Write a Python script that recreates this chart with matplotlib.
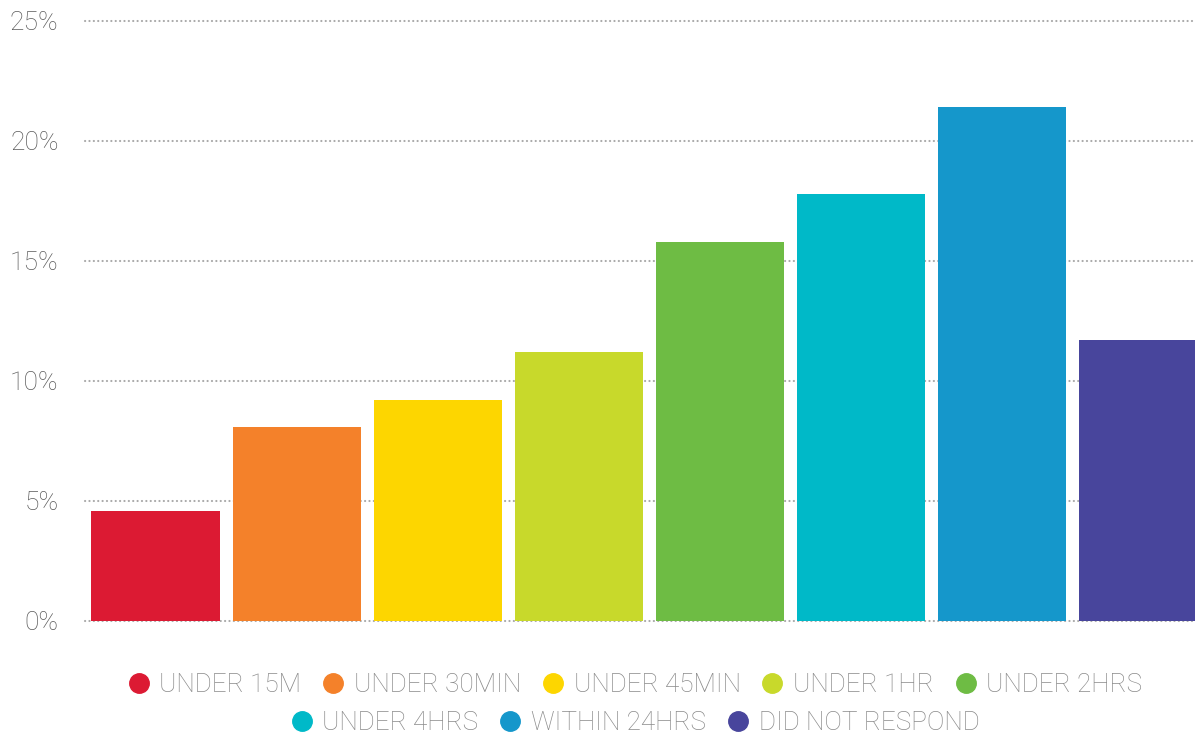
import matplotlib
matplotlib.use('Agg')
import matplotlib.pyplot as plt
from matplotlib.lines import Line2D
from matplotlib.ticker import FuncFormatter

plt.rcParams['font.family'] = ['Roboto', 'DejaVu Sans']

# 데이터
categories = ['UNDER 15M', 'UNDER 30MIN', 'UNDER 45MIN', 'UNDER 1HR',
              'UNDER 2HRS', 'UNDER 4HRS', 'WITHIN 24HRS', 'DID NOT RESPOND']
values = [4.6, 8.1, 9.2, 11.2, 15.8, 17.8, 21.4, 11.7]
colors = ['#DC1A33', '#F4812A', '#FDD600', '#C8D92B',
          '#6EBC44', '#00B9C8', '#1597CB', '#48459C']
yticks = [0, 5, 10, 15, 20, 25]

fig = plt.figure(figsize=(11.95, 7.34), dpi=100)
ax = fig.add_axes([85 / 1195, 113 / 734, 1 - 85 / 1195, 600 / 734])

x = list(range(len(categories)))
ax.bar(x, values, width=0.908, color=colors, zorder=2)

ax.set_xlim(-0.5, 7.37)
ax.set_ylim(0, 25)
ax.set_yticks(yticks)
ax.yaxis.set_major_formatter(FuncFormatter(lambda v, p: f'{v:.0f}%'))
ax.set_xticks([])

for s in ax.spines.values():
    s.set_visible(False)

ax.tick_params(axis='y', length=0, pad=19, labelsize=19, labelcolor='#5a5a5a')
for lab in ax.get_yticklabels():
    lab.set_fontweight('light')

ax.set_axisbelow(True)
ax.grid(axis='y', color='#a8a8a8', linewidth=1.5, linestyle=(0, (0.1, 2.0)))
for gl in ax.get_ygridlines():
    gl.set_dash_capstyle('round')
    gl.set_clip_on(False)

# 범례 (두 줄, 각각 가운데 정렬)
handles = [Line2D([], [], marker='o', linestyle='none', markersize=14,
                  markerfacecolor=c, markeredgecolor=c) for c in colors]

leg_kw = dict(frameon=False, handletextpad=0.29, columnspacing=0.72,
              handlelength=1.0, prop={'size': 18.8, 'weight': 'light'},
              labelcolor='#8a8a8a', loc='center')
fig.legend(handles[:5], categories[:5], ncol=5,
           bbox_to_anchor=(634 / 1195, 1 - 685 / 734), **leg_kw)
fig.legend(handles[5:], categories[5:], ncol=3,
           bbox_to_anchor=(634 / 1195, 1 - 723 / 734), **leg_kw)

fig.savefig('out.png', dpi=100)
